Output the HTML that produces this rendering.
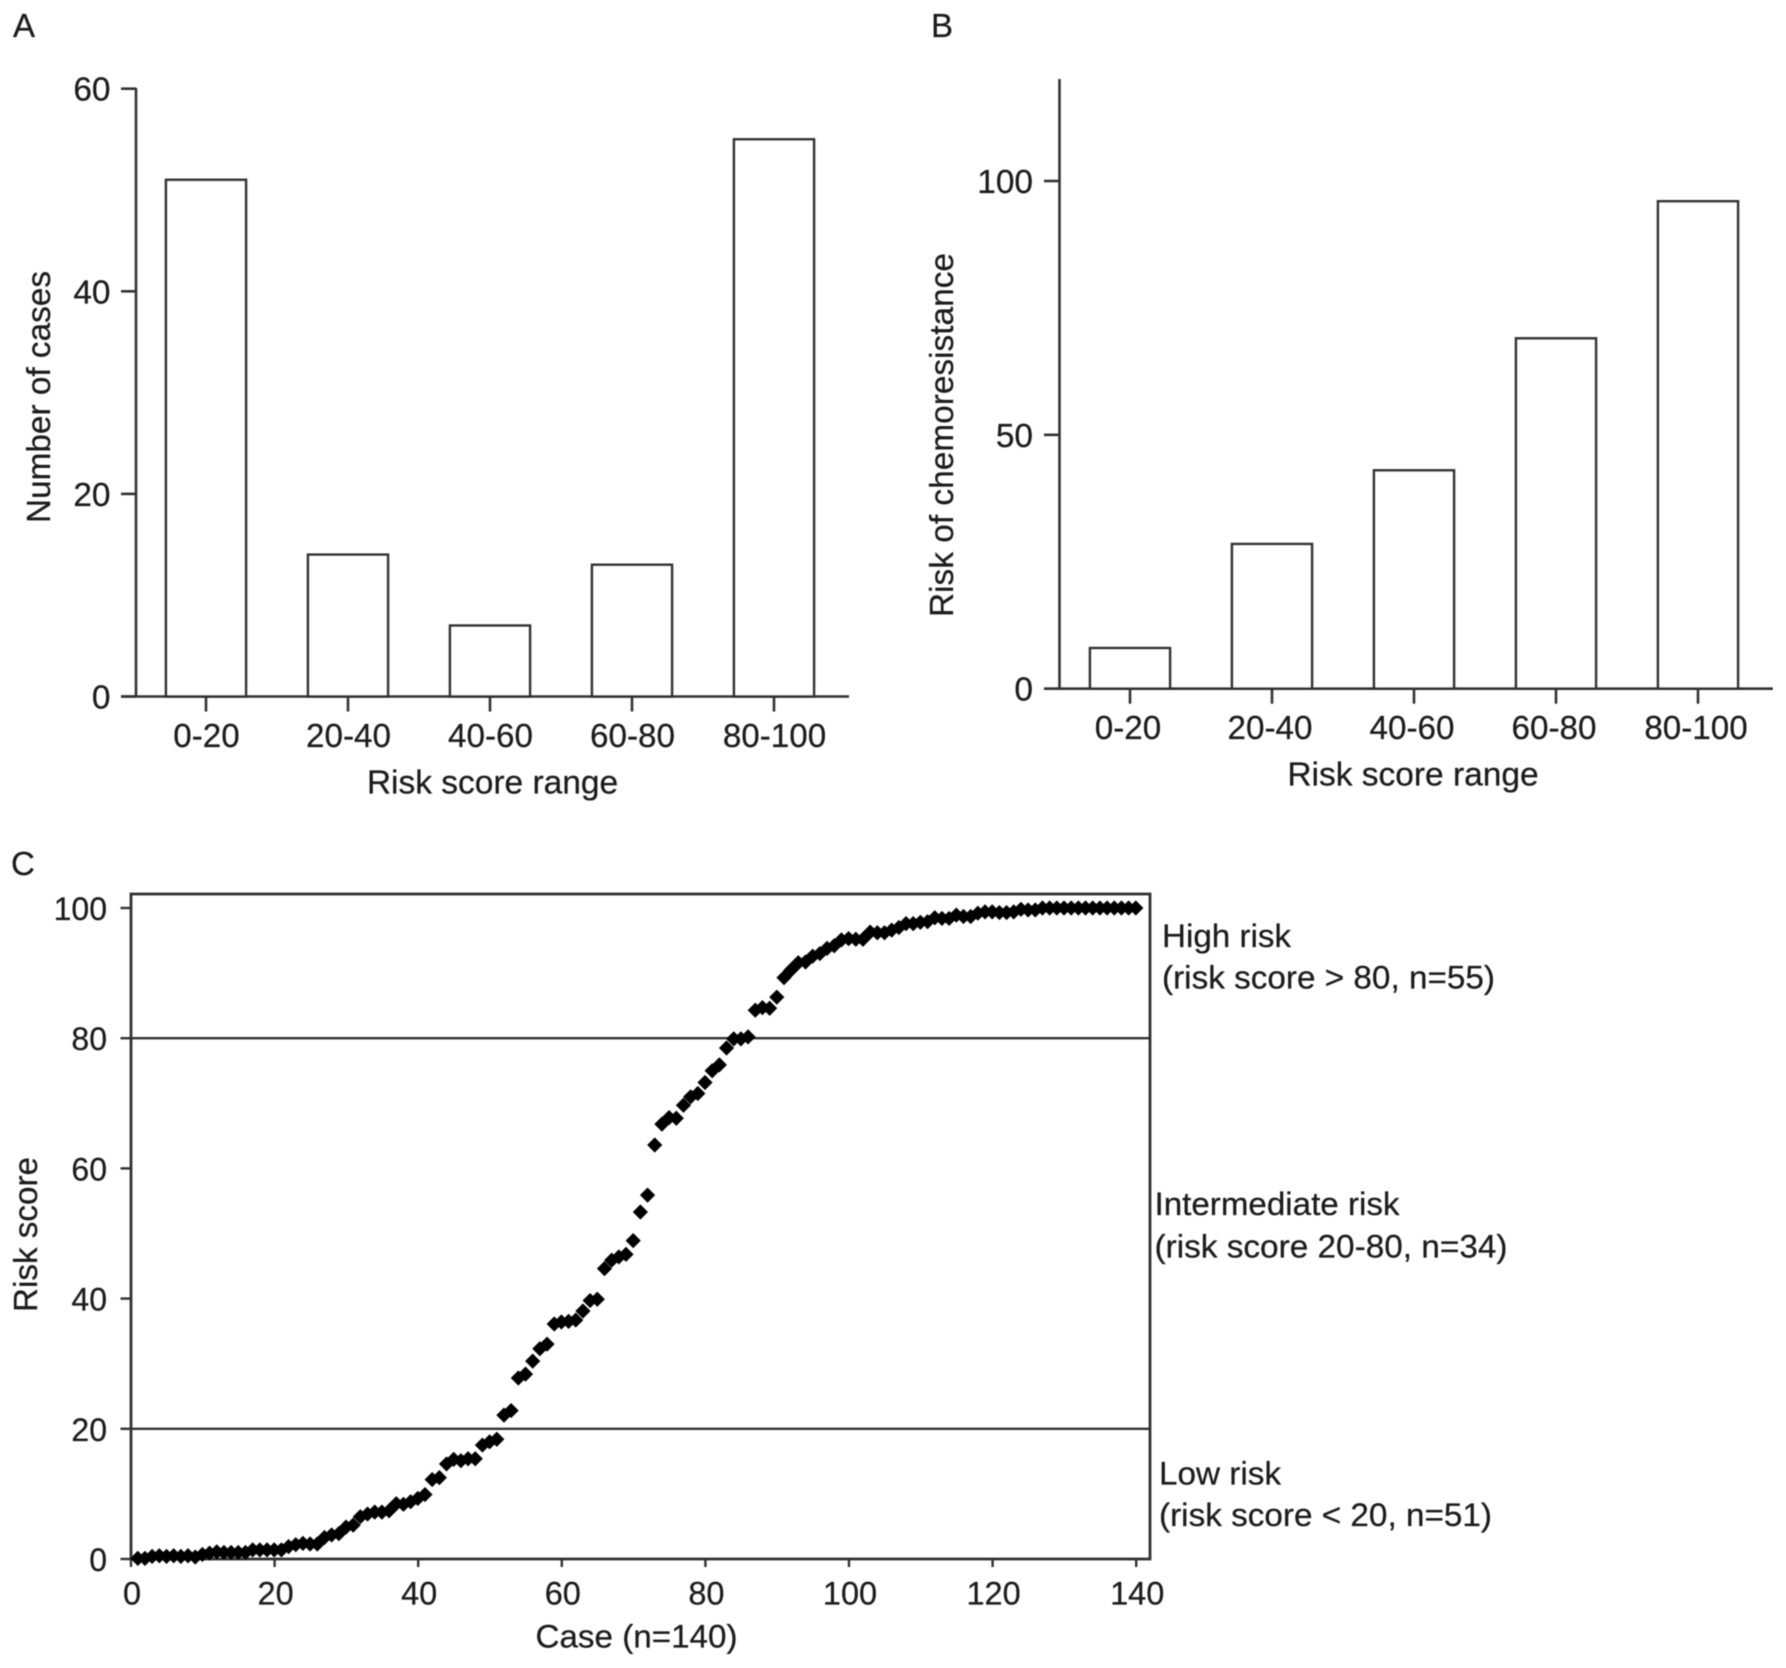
<!DOCTYPE html>
<html lang="en">
<head>
<meta charset="utf-8">
<title>Risk score charts</title>
<style>
html,body{margin:0;padding:0;background:#fff;}
svg{display:block;}
text{font-family:"Liberation Sans",Arial,sans-serif;fill:#1c1c1c;stroke:#1c1c1c;stroke-width:0.25px;}
</style>
</head>
<body>
<svg id="figure" xmlns="http://www.w3.org/2000/svg" width="1786" height="1668" viewBox="0 0 1786 1668">
  <rect x="0" y="0" width="1786" height="1668" fill="#fff"/>
  <g filter="url(#soft)" id="root"></g>
  <defs><filter id="soft" x="0" y="0" width="100%" height="100%"><feGaussianBlur stdDeviation="0.5"/></filter></defs>
</svg>
<script>
// Panel A and B data
const rangeCategories = ["0-20", "20-40", "40-60", "60-80", "80-100"];
const casesPerRange = [51, 14, 7, 13, 55];
const casesTicks = [0, 20, 40, 60];
const chemoRiskPerRange = [8, 28.5, 43, 69, 96];
const chemoTicks = [0, 50, 100];
// Panel C data
const scoreTicksY = [0, 20, 40, 60, 80, 100];
const caseTicksX = [0, 20, 40, 60, 80, 100, 120, 140];
const riskThresholds = [20, 80];
const riskScores = [
  0.1,0.1,0.4,0.5,0.4,0.5,0.4,0.5,0.3,0.7,
  0.9,1.1,1.0,1.0,1.0,1.0,1.4,1.4,1.4,1.4,
  1.4,1.9,2.2,2.4,2.3,2.3,3.3,3.7,3.9,4.9,
  5.2,6.5,6.9,7.2,7.2,7.4,8.5,8.4,8.8,9.3,
  9.9,12.2,12.5,14.6,15.3,15.1,15.4,15.4,17.5,18.0,
  18.4,22.1,22.8,27.8,28.4,30.4,32.3,33.0,36.1,36.4,
  36.5,36.7,38.1,39.7,39.9,44.6,45.9,46.4,46.8,48.9,
  53.3,55.9,63.6,66.8,67.8,67.7,69.7,71.0,71.5,73.2,
  75.0,75.9,78.5,79.9,79.9,80.2,84.3,84.7,84.6,86.3,
  89.3,90.5,91.6,91.7,92.6,93.0,93.8,94.2,95.1,95.3,
  95.2,95.2,96.3,96.2,96.2,96.6,97.0,97.6,97.6,97.8,
  97.9,98.5,98.4,98.4,98.9,98.7,98.7,99.2,99.4,99.4,
  99.3,99.3,99.4,99.8,99.7,99.7,100,100,100,100,
  100,100,100,100,100,100,100,100,100,100
];

const NS = "http://www.w3.org/2000/svg";
const root = document.getElementById("root");
const INK = "#333333";

function el(tag, attrs, parent) {
  const n = document.createElementNS(NS, tag);
  for (const k in attrs) n.setAttribute(k, attrs[k]);
  (parent || root).appendChild(n);
  return n;
}
function line(x1, y1, x2, y2, w, parent) {
  const n = el("line", {x1: x1, y1: y1, x2: x2, y2: y2, stroke: INK, "stroke-width": w}, parent);
  
  return n;
}
function label(str, x, y, size, anchor, parent) {
  const n = el("text", {x: x, y: y, "font-size": size, "text-anchor": anchor}, parent);
  n.textContent = str;
  
  return n;
}

function barPanel(cfg) {
  const g = el("g", {});
  
  
  const yScale = v => cfg.y0 - v * cfg.pxPerUnit;
  const xScale = i => cfg.x0 + i * cfg.step;

  const bars = el("g", {}, g);
  
  
  cfg.values.forEach((v, i) => {
    const top = yScale(v);
    const bar = el("rect", {x: xScale(i) - cfg.barWidth / 2, y: top, width: cfg.barWidth, height: cfg.y0 - top, fill: "#fff", stroke: INK, "stroke-width": 2.6}, bars);
    
    
  });

  const yAxis = line(cfg.axisX, cfg.axisTop, cfg.axisX, cfg.y0, 2.6, g);
  
  const xAxis = line(cfg.tickLeft, cfg.y0, cfg.axisRight, cfg.y0, 2.6, g);
  

  cfg.ticks.forEach(t => {
    const y = yScale(t);
    const tick = line(cfg.tickLeft, y, cfg.axisX, y, 2.6, g);
    
    const tl = label(String(t), cfg.yLabelRight, y + 12, 33.4, "end", g);
    
  });
  cfg.categories.forEach((c, i) => {
    const x = xScale(i);
    const tick = line(x, cfg.y0, x, cfg.y0 + 15, 2.6, g);
    
    const tl = label(c, x + cfg.catShift, cfg.catBaseline, 33.2, "middle", g);
    
  });

  const xt = label("Risk score range", cfg.xTitleX, cfg.xTitleY, 33.5, "middle", g);
  
  const yt = label(cfg.yTitle, 0, 0, 33, "middle", g);
  yt.setAttribute("transform", "translate(" + cfg.yTitleX + " " + cfg.yTitleY + ") rotate(-90)");
  yt.setAttribute("textLength", cfg.yTitleLen);
  yt.setAttribute("lengthAdjust", "spacingAndGlyphs");
  
}

barPanel({
  name: "panel-a", categories: rangeCategories, values: casesPerRange, ticks: casesTicks,
  x0: 206, step: 142, barWidth: 80, y0: 696.5, pxPerUnit: 10.13,
  axisX: 136, axisTop: 88, axisRight: 849, tickLeft: 121, yLabelRight: 110.5,
  catBaseline: 747, catShift: 0.5, xTitleX: 492.5, xTitleY: 793.5,
  yTitle: "Number of cases", yTitleX: 50, yTitleY: 397, yTitleLen: 252
});
barPanel({
  name: "panel-b", categories: rangeCategories, values: chemoRiskPerRange, ticks: chemoTicks,
  x0: 1130, step: 142, barWidth: 80, y0: 688.7, pxPerUnit: 5.077,
  axisX: 1059.5, axisTop: 79, axisRight: 1773, tickLeft: 1044, yLabelRight: 1033,
  catBaseline: 739, catShift: -2, xTitleX: 1413, xTitleY: 785.5,
  yTitle: "Risk of chemoresistance", yTitleX: 953, yTitleY: 435, yTitleLen: 364
});

// Panel letters
const letters = [["A", 13, 37, "panel-a-letter"], ["B", 931, 37, "panel-b-letter"], ["C", 11, 875, "panel-c-letter"]];
letters.forEach(l => {
  const t = label(l[0], l[1], l[2], 33, "start");
  
});

// Panel C
(function () {
  const g = el("g", {});
  
  
  const X0 = 131, PX = 7.18, Y0 = 1559, PY = 6.51;
  const xScale = v => X0 + v * PX;
  const yScale = v => Y0 - v * PY;

  const frame = el("rect", {x: X0, y: 894, width: 1150 - X0, height: Y0 - 894, fill: "none", stroke: INK, "stroke-width": 2.8}, g);
  
  

  riskThresholds.forEach(t => {
    const y = yScale(t);
    const n = line(X0, y, 1150, y, 2.4, g);
    
  });
  scoreTicksY.forEach(t => {
    const y = yScale(t);
    const tick = line(120.5, y, X0, y, 2.4, g);
    
    const tl = label(String(t), 107, y + 12, 32, "end", g);
    
  });
  caseTicksX.forEach(t => {
    const x = xScale(t);
    const tick = line(x, Y0, x, Y0 + 8, 2.4, g);
    
    const tl = label(String(t), x + 1, 1604.5, 32.5, "middle", g);
    
  });

  const pts = el("g", {}, g);
  
  
  const R = 7.6;
  riskScores.forEach((v, i) => {
    const x = xScale(i + 1) - 0.4, y = yScale(v);
    const p = el("polygon", {points: (x - R) + "," + y + " " + x + "," + (y - R) + " " + (x + R) + "," + y + " " + x + "," + (y + R), fill: "#000"}, pts);
    
    
  });

  const xt = label("Case (n=140)", 636.5, 1647.5, 32, "middle", g);
  xt.setAttribute("textLength", 202);
  xt.setAttribute("lengthAdjust", "spacingAndGlyphs");
  
  const yt = label("Risk score", 0, 0, 33, "middle", g);
  yt.setAttribute("transform", "translate(37 1234.5) rotate(-90)");
  yt.setAttribute("textLength", 155);
  yt.setAttribute("lengthAdjust", "spacingAndGlyphs");
  

  const annotations = [
    ["High risk", 1162, 947, 129, "high-risk-label"],
    ["(risk score > 80, n=55)", 1162, 988.5, 333, "high-risk-detail"],
    ["Intermediate risk", 1154.5, 1215, 245, "intermediate-risk-label"],
    ["(risk score 20-80, n=34)", 1154.5, 1257.5, 353, "intermediate-risk-detail"],
    ["Low risk", 1159, 1484.5, 122, "low-risk-label"],
    ["(risk score < 20, n=51)", 1159, 1526, 333, "low-risk-detail"]
  ];
  annotations.forEach(a => {
    const t = label(a[0], a[1], a[2], 32, "start", g);
    t.setAttribute("textLength", a[3]);
    t.setAttribute("lengthAdjust", "spacingAndGlyphs");
    
  });
})();
</script>
</body>
</html>
